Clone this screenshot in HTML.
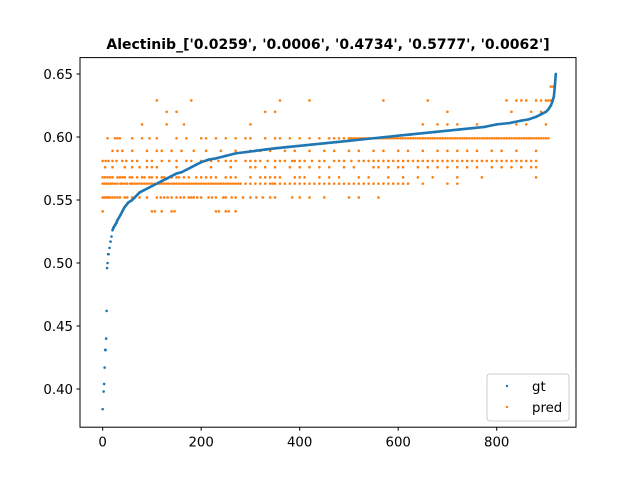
<!DOCTYPE html>
<html><head><meta charset="utf-8"><style>
body{margin:0;background:#fff}
svg text{font-family:"DejaVu Sans","Liberation Sans",sans-serif}
</style></head><body>
<svg id="chart" width="640" height="480">
<rect width="640" height="480" fill="#fff"/>
<text x="328" y="49" text-anchor="middle" font-size="14" font-weight="bold">Alectinib_['0.0259', '0.0006', '0.4734', '0.5777', '0.0062']</text>
<g id="plot"></g>
<rect x="80" y="57.6" width="496" height="369.6" fill="none" stroke="#000" stroke-width="1"/>
<g id="axes"></g>
<g>
<rect x="487" y="374" width="82" height="47" rx="3" fill="#fff" stroke="#ccc"/>
<circle cx="507" cy="386" r="1.2" fill="#1f77b4"/>
<text x="532" y="391" font-size="13.3">gt</text>
<circle cx="507" cy="407" r="1.2" fill="#ff7f0e"/>
<text x="532" y="412" font-size="13.3">pred</text>
</g>
</svg>
<script>
const gtX=[0,2,3,4,5,6,7,8,9,10,11,12,14,16,18,20,22,25,28,30,33,36,40,44,48,52,56,60,65,70,75,80,85,90,95,100,110,120,130,140,150,160,170,180,190,200,215,230,250,270,290,310,330,350,375,400,425,450,475,500,525,550,575,600,625,650,675,700,725,750,775,800,825,850,865,880,890,900,905,910,913,916,918,920];
const gtY=[0.384,0.398,0.404,0.417,0.431,0.431,0.440,0.462,0.496,0.500,0.507,0.507,0.512,0.517,0.521,0.526,0.528,0.530,0.532,0.534,0.536,0.538,0.541,0.544,0.546,0.548,0.549,0.550,0.552,0.554,0.556,0.557,0.558,0.559,0.560,0.561,0.563,0.565,0.567,0.569,0.571,0.572,0.574,0.576,0.578,0.580,0.582,0.583,0.585,0.587,0.588,0.589,0.590,0.591,0.592,0.593,0.594,0.595,0.596,0.597,0.598,0.599,0.600,0.601,0.602,0.603,0.604,0.605,0.606,0.607,0.608,0.610,0.611,0.613,0.614,0.616,0.618,0.620,0.622,0.625,0.628,0.632,0.640,0.650];
const predLevels=[0.541,0.552,0.563,0.568,0.576,0.581,0.589,0.599,0.610,0.620,0.629,0.640];
const predXs=[
[0,100,106,120,140,146,230,236,250,256,270],
[0,3,6,9,12,15,20,25,30,35,45,50,60,75,90,110,118,125,132,140,150,158,165,175,180,185,192,200,215,222,230,245,250,262,270,285,300,312,325,340,350,385,400,420,450,500,520,560],
[0,4,8,12,16,20,25,30,36,40,45,50,56,60,65,70,75,80,85,90,95,100,105,110,115,120,125,130,135,140,145,150,155,160,165,170,175,180,185,190,195,200,205,210,215,220,225,230,235,240,245,250,255,260,265,270,275,280,290,300,310,320,330,340,345,350,360,370,380,390,400,410,420,430,440,450,460,470,480,490,500,510,520,530,540,550,560,570,580,590,600,610,620,650,700,720],
[0,5,10,15,20,30,35,40,45,55,60,70,80,85,95,100,110,120,125,140,150,155,165,175,190,200,210,220,230,250,260,270,300,320,330,340,350,360,390,400,410,440,460,480,520,540,580,610,640,670,720,770,880],
[5,20,45,60,75,90,100,110,150,180,220,260,300,310,330,350,380,400,420,440,460,490,510,550,560,580,600,610,640,660,680,700,720,740,760,790,810,830,850,870,880],
[0,6,12,20,28,40,48,60,70,90,100,120,135,150,170,180,200,210,220,235,250,260,270,290,300,310,320,335,350,360,370,385,390,400,410,425,440,450,470,480,490,505,520,530,540,550,560,570,580,590,600,610,620,630,640,650,660,670,680,690,700,710,720,730,740,750,760,770,780,790,800,810,820,830,840,850,860,870,880],
[20,30,40,60,90,110,120,140,160,185,210,240,270,300,320,340,370,390,420,450,470,500,520,550,570,600,620,650,680,700,720,740,760,790,810,840,880],
[10,25,30,35,60,80,95,110,150,170,200,210,230,250,270,290,300,330,350,360,380,400,420,440,460,470,480,490,500,505,510,515,520,525,530,535,540,545,550,555,560,565,570,575,580,585,590,595,600,605,610,615,620,625,630,635,640,645,650,655,660,665,670,675,680,685,690,695,700,705,710,715,720,725,730,735,740,745,750,755,760,765,770,775,780,785,790,795,800,805,810,815,820,825,830,835,840,845,850,855,860,865,870,875,880,885,890,895,900,905],
[80,130,165,300,650,680,700,720,760,800,840,860,900],
[130,150,330,350,700,830,870,890],
[110,180,360,420,570,660,820,840,850,860,880,890,900,905,910],
[910,915,918]
];
const xTicks=[0,200,400,600,800];
const yTicks=[0.40,0.45,0.50,0.55,0.60,0.65];
const X0=80,X1=576,Y0=427.2,Y1=57.6,xmin=-46,xmax=961,ymin=0.3697,ymax=0.663;
const sx=v=>X0+(v-xmin)/(xmax-xmin)*(X1-X0);
const sy=v=>Y0-(v-ymin)/(ymax-ymin)*(Y0-Y1);
const NS="http://www.w3.org/2000/svg";
const plot=document.getElementById('plot'),axes=document.getElementById('axes');
function mk(t,a,p){const e=document.createElementNS(NS,t);for(const k in a)e.setAttribute(k,a[k]);p.appendChild(e);return e;}
predLevels.forEach((lv,j)=>{predXs[j].forEach(x=>{
 const c=mk('circle',{cx:sx(x),cy:sy(lv),r:1.3,fill:'#ff7f0e'},plot);
 
 
});});
const startIdx=15;
const gl=mk('polyline',{points:gtX.slice(startIdx).map((x,i)=>sx(x)+','+sy(gtY[i+startIdx])).join(' '),fill:'none',stroke:'#1f77b4','stroke-width':2.6},plot);


gtX.forEach((x,i)=>{
 const c=mk('circle',{cx:sx(x),cy:sy(gtY[i]),r:1.3,fill:'#1f77b4'},plot);
 
 
});
xTicks.forEach(t=>{
 mk('line',{x1:sx(t),x2:sx(t),y1:Y0,y2:Y0+3.5,stroke:'#000'},axes);
 const tx=mk('text',{x:sx(t),y:Y0+19.5,'text-anchor':'middle','font-size':13.3},axes);
 tx.textContent=t;
 
 
});
yTicks.forEach(t=>{
 mk('line',{x1:X0-3.5,x2:X0,y1:sy(t),y2:sy(t),stroke:'#000'},axes);
 const tx=mk('text',{x:X0-7,y:sy(t)+5,'text-anchor':'end','font-size':13.3},axes);
 tx.textContent=t.toFixed(2);
 
 
});
</script>
</body></html>
